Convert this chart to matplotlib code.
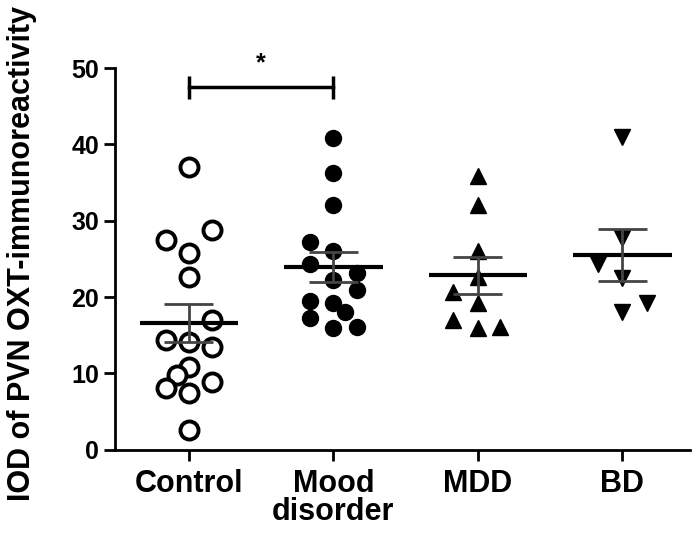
import matplotlib.pyplot as plt
import numpy as np

plt.rcParams['font.family'] = ['Liberation Sans', 'DejaVu Sans']
plt.rcParams['font.weight'] = 'bold'

# DATA
groups = ["Control", "Mood\ndisorder", "MDD", "BD"]
control = [37.0, 28.8, 27.5, 25.8, 22.6, 17.0, 14.4, 14.1, 13.5, 10.9, 9.8, 8.9, 8.1, 7.5, 2.6]
control_dx = [0, 0.16, -0.16, 0, 0, 0.16, -0.16, 0, 0.16, 0, -0.08, 0.16, -0.16, 0, 0]
mood = [40.8, 36.2, 32.0, 27.2, 26.1, 24.4, 23.1, 22.2, 20.9, 19.5, 19.2, 18.0, 17.2, 15.9, 16.1]
mood_dx = [0, 0, 0, -0.16, 0, -0.16, 0.16, 0, 0.16, -0.16, 0, 0.08, -0.16, 0, 0.16]
mdd = [35.9, 32.0, 26.1, 22.6, 20.7, 19.2, 17.0, 15.9, 16.1]
mdd_dx = [0, 0, 0, 0, -0.17, 0, -0.17, 0, 0.15]
bd = [41.0, 27.7, 24.4, 22.5, 19.2, 18.0]
bd_dx = [0, 0, -0.17, 0, 0.17, 0]

fig = plt.figure(figsize=(6.98, 5.4), dpi=100)
ax = fig.add_axes([0.165, 0.167, 0.824, 0.707])

series = [
    (control, control_dx, dict(marker="o", mfc="white", mec="black", mew=2.8, ms=13)),
    (mood, mood_dx, dict(marker="o", mfc="black", mec="black", ms=11.5)),
    (mdd, mdd_dx, dict(marker="^", mfc="black", mec="black", ms=11)),
    (bd, bd_dx, dict(marker="v", mfc="black", mec="black", ms=11)),
]

for i, (vals, dx, style) in enumerate(series):
    vals = np.array(vals)
    ax.plot(i + np.array(dx), vals, linestyle="none", zorder=3, clip_on=False, **style)
    m = vals.mean()
    sem = vals.std(ddof=1) / np.sqrt(len(vals))
    ax.hlines(m, i - 0.34, i + 0.34, color="black", lw=3, zorder=4)
    ax.hlines([m - sem, m + sem], i - 0.17, i + 0.17, color="#444444", lw=2, zorder=4)
    ax.vlines(i, m - sem, m + sem, color="#444444", lw=2, zorder=4)

# significance bar
ax.plot([0, 1], [47.5, 47.5], color="black", lw=2.5, clip_on=False)
ax.vlines([0, 1], 46.0, 49.0, color="black", lw=2.5, clip_on=False)
ax.text(0.5, 49.0, "*", ha="center", va="bottom", fontsize=18, fontweight="bold")

ax.set_xlim(-0.51, 3.47)
ax.set_ylim(0, 50)
ax.set_yticks([0, 10, 20, 30, 40, 50])
ax.set_xticks(range(4))
ax.set_xticklabels(groups, fontsize=22, fontweight="bold", linespacing=0.9)
ax.tick_params(axis="y", labelsize=18, width=2, length=8)
ax.tick_params(axis="x", width=2, length=8, pad=6)
ax.spines["top"].set_visible(False)
ax.spines["right"].set_visible(False)
ax.spines["left"].set_linewidth(2)
ax.spines["bottom"].set_linewidth(2)
ax.set_ylabel("IOD of PVN OXT-immunoreactivity", fontsize=22, fontweight="bold")
ax.yaxis.set_label_coords(-0.136, 0.515)

fig.savefig("out.png", dpi=100)
